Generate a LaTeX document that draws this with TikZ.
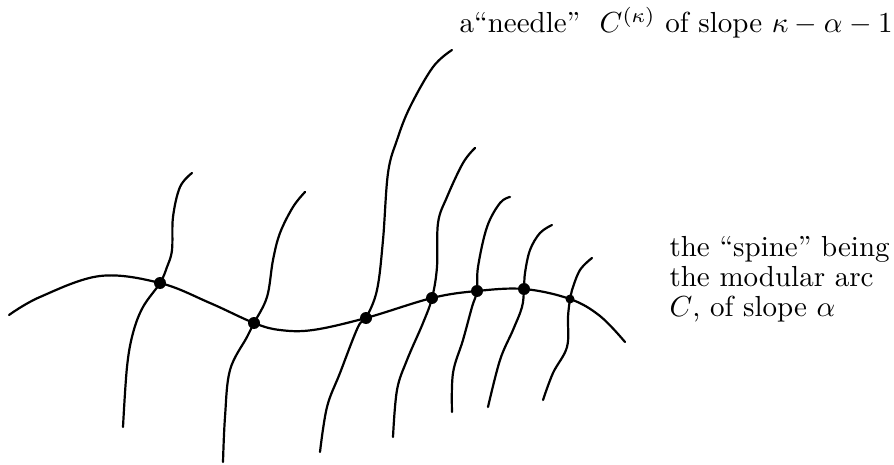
\documentclass[tikz,border=0pt]{standalone}
\begin{document}
\begin{tikzpicture}[x=1pt,y=-1pt,
  curve/.style={line width=2.2pt,line cap=round,line join=round},
  dot/.style={circle,fill=black,inner sep=0pt,minimum size=12pt},
  lbl/.style={font=\fontsize{10}{10.2}\selectfont,inner sep=0pt,scale=2.9}]
\useasboundingbox (0,0) rectangle (894,465);
% spine
\draw[curve] plot[smooth,tension=0.6] coordinates {(9,315) (40,297) (100,276) (160,283) (210,303) (254,323) (280,330) (313,330) (366,318) (432,298) (477,291) (524,289) (570,299) (600,316) (625,342)};
% dots
\node[dot] (d1) at (160,283) {};
\node[dot] (d2) at (254,323) {};
\node[dot] (d3) at (366,318) {};
\node[dot] (d4) at (432,298) {};
\node[dot] (d5) at (477,291) {};
\node[dot] (d6) at (524,289) {};
\node[dot,minimum size=9pt] (d7) at (570,299) {};
% needles
\draw[curve] plot[smooth,tension=0.6] coordinates {(192,173) (180,187) (173,217) (172,250) (167,267) (160,283) (143,307) (133,333) (127,367) (123,427)};
\draw[curve] plot[smooth,tension=0.6] coordinates {(305,192) (293,207) (280,233) (273,260) (267,297) (254,323) (247,337) (230,370) (225,417) (223,462)};
\draw[curve] plot[smooth,tension=0.6] coordinates {(452,50) (433,67) (410,107) (397,140) (388,173) (383,240) (377,290) (366,318) (358,327) (340,373) (327,407) (320,452)};
\draw[curve] plot[smooth,tension=0.6] coordinates {(475,148) (463,163) (447,197) (438,223) (437,267) (432,298) (423,323) (407,360) (397,390) (393,437)};
\draw[curve] plot[smooth,tension=0.6] coordinates {(510,197) (500,203) (487,227) (478,267) (477,291) (472,307) (463,340) (453,373) (452,412)};
\draw[curve] plot[smooth,tension=0.6] coordinates {(552,225) (540,233) (530,250) (525,273) (524,289) (522,307) (513,330) (500,360) (488,407)};
\draw[curve] plot[smooth,tension=0.6] coordinates {(592,258) (580,270) (572,290) (570,299) (568,317) (567,347) (553,373) (543,400)};
% labels
\node[lbl,anchor=base west] (needle) at (459,33) {a``needle''\ \ $C^{(\kappa)}$ of slope $\kappa-\alpha-1$};
\node[lbl,anchor=base west,align=left] (spine) at (669,316) {the ``spine'' being\\the modular arc\\$C$, of slope $\alpha$};
\end{tikzpicture}
\end{document}
